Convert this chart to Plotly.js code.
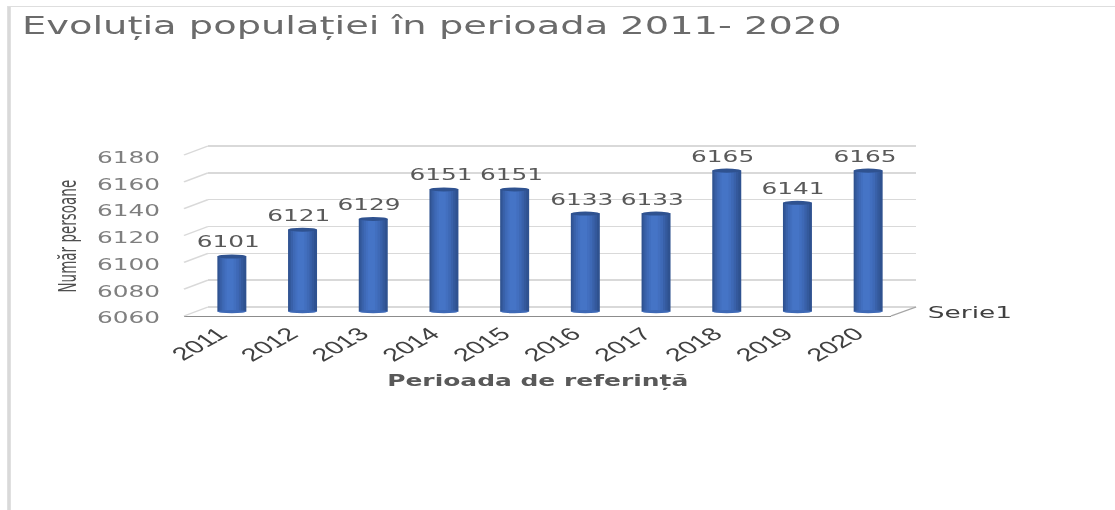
<!DOCTYPE html>
<html>
<head>
<meta charset="utf-8">
<script src="https://cdn.plot.ly/plotly-3.0.1.min.js"></script>
<style>
html,body{margin:0;padding:0;background:#fff;overflow:hidden;width:1115px;height:510px}
#chart{position:absolute;left:0;top:0;width:697px;height:510px;transform-origin:0 0;transform:scaleX(1.59971);filter:blur(0.35px)}
</style>
</head>
<body>
<div id="chart"></div>
<script>
const years = ['2011','2012','2013','2014','2015','2016','2017','2018','2019','2020'];
const population = [6101,6121,6129,6151,6151,6133,6133,6165,6141,6165];
const seriesName = 'Serie1';
const yTicks = [6060,6080,6100,6120,6140,6160,6180];
const titleText = 'Evoluția populației în perioada 2011- 2020';
const xTitleText = 'Perioada de referință';
const yTitleText = 'Număr persoane';

const W = 697, H = 510, S = 1115 / 697;
const px = x => x / S / W;           // reference x pixel -> paper
const py = y => 1 - y / H;           // reference y pixel -> paper
const yRange = [6060, 6180];
const barW = 0.41;
// left edge, right edge (fractions of the bar width), colour: cylinder shading
const shades = [
  [0.00, 1.00, '#2f5290'], [0.05, 0.90, '#34599c'], [0.10, 0.82, '#3961a9'],
  [0.17, 0.74, '#3e69b6'], [0.25, 0.65, '#426fbf'], [0.32, 0.56, '#4574c6']
];

const traces = [];
traces.push({type:'scatter', mode:'none', x:years, y:population, xaxis:'x', yaxis:'y', hoverinfo:'skip', showlegend:false});
traces.push({type:'scatter', mode:'none', x:years, y:population, xaxis:'x2', yaxis:'y2', hoverinfo:'skip', showlegend:false});
shades.forEach(([l, r, c]) => {
  traces.push({type:'bar', x:years, y:population, xaxis:'x3', yaxis:'y3', width:barW * (r - l), offset:barW * (l - 0.5),
    marker:{color:c, line:{width:0}}, name:seriesName, showlegend:false, hoverinfo:'skip'});
});

const depthLine = (x0, y0, x1, y1, color) => ({type:'line', xref:'paper', yref:'paper',
  x0:px(x0), y0:py(y0), x1:px(x1), y1:py(y1), line:{color, width:1.3}});
const shapes = [
  {type:'rect', xref:'paper', yref:'paper', x0:px(7.2), x1:px(10.8), y0:py(6), y1:0, fillcolor:'#d9d9d9', line:{width:0}},
  {type:'line', xref:'paper', yref:'paper', x0:px(8), x1:1, y0:py(6.5), y1:py(6.5), line:{color:'#dedede', width:1.2}}
];
yTicks.forEach((t, i) => {
  const yBack = 307 - i * 26.83, yFront = 316 - i * 26.83;
  shapes.push(depthLine(184, yFront, 208, yBack, '#d9d9d9'));
});
shapes.push(depthLine(891, 316, 916, 307, '#a6a6a6'));
population.forEach((v, i) => {
  shapes.push({type:'circle', xref:'x3', yref:'y3', x0:i-barW/2, x1:i+barW/2, y0:v-1.5, y1:v+1.5,
    fillcolor:'#2f5290', line:{width:0}});
  // rounded foot of the cylinder, below the bar axis
  shapes.push({type:'circle', xref:'x3', yref:'paper', x0:i-barW/2, x1:i+barW/2, y0:py(313.2), y1:py(310),
    fillcolor:'#3e69b6', line:{width:0}});
});

const annotations = population.map((v, i) => ({
  xref:'x3', yref:'y3', x:i, y:v, text:String(v), showarrow:false, xanchor:'center', yanchor:'middle',
  xshift:-2.5, yshift:14, font:{family:'DejaVu Sans', size:15.5, color:'#595959'}
}));
annotations.push({xref:'paper', yref:'paper', x:px(925), y:py(312), xanchor:'left', yanchor:'middle',
  text:seriesName, showarrow:false, font:{family:'DejaVu Sans', size:16.5, color:'#404040'}});
annotations.push({xref:'paper', yref:'paper', x:px(68), y:py(236), xanchor:'center', yanchor:'middle', textangle:-90,
  text:yTitleText, showarrow:false, font:{family:'DejaVu Sans Condensed, Liberation Sans', size:15, color:'#4f4f4f'}});
annotations.push({xref:'paper', yref:'paper', x:px(538), y:py(381), xanchor:'center', yanchor:'middle',
  text:'<b>'+xTitleText+'</b>', showarrow:false, font:{family:'DejaVu Sans', size:15.6, color:'#595959'}});

// gridlines exactly on a range edge are not drawn, so the wall's range is padded by 1 unit and its domain to match
const wallPad = 26.83 / 20;
const layout = {
  width:W, height:H, margin:{l:0,r:0,t:0,b:0}, paper_bgcolor:'#fff', plot_bgcolor:'rgba(0,0,0,0)',
  showlegend:false, barmode:'overlay', shapes, annotations,
  title:{text:titleText, x:px(22), xanchor:'left', y:py(25.5), yanchor:'middle',
    font:{family:'DejaVu Sans', size:24, color:'#6b6b6b'}},
  xaxis:{domain:[px(184), px(891)], type:'category', range:[-0.5,9.5], anchor:'y', tickangle:-42, ticks:'',
    tickfont:{family:'Liberation Sans', size:18, color:'#404040'}, showgrid:false, zeroline:false, ticklabelstandoff:-1,
    showline:true, linecolor:'#8c8c8c', linewidth:1.2, tickvals:[0,1,2,3,4,5,6,7,8,9], ticktext:years},
  yaxis:{domain:[py(316), py(155.5)], range:yRange, tickvals:yTicks, ticks:'', showgrid:false, zeroline:false, showline:false,
    tickfont:{family:'DejaVu Sans', size:15.5, color:'#7f7f7f'}, ticklabelstandoff:14, ticklabelshift:2, anchor:'x'},
  xaxis2:{domain:[px(208), px(916)], type:'category', range:[-0.5,9.5], anchor:'y2', showticklabels:false, ticks:'', showgrid:false, zeroline:false},
  yaxis2:{domain:[py(307 + wallPad), py(146 - wallPad)], range:[6059,6181], tickvals:yTicks, showticklabels:false, ticks:'', showgrid:true,
    gridcolor:'#d9d9d9', gridwidth:1.4, zeroline:false, anchor:'x2'},
  xaxis3:{domain:[px(196.5), px(903.5)], type:'category', range:[-0.5,9.5], anchor:'y3', showticklabels:false, ticks:'', showgrid:false, zeroline:false},
  yaxis3:{domain:[py(311.5), py(150.5)], range:yRange, showticklabels:false, ticks:'', showgrid:false, zeroline:false, anchor:'x3'}
};
Plotly.newPlot('chart', traces, layout, {displayModeBar:false, staticPlot:true});
</script>
</body>
</html>
